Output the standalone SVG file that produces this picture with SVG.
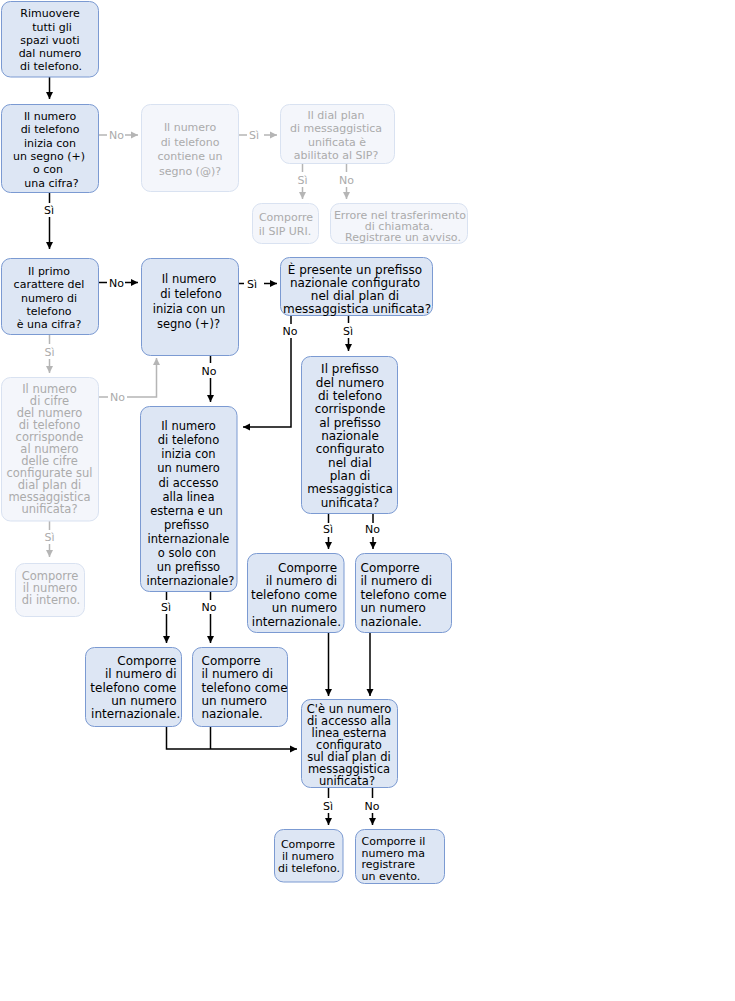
<svg xmlns="http://www.w3.org/2000/svg" width="735" height="1001" viewBox="0 0 735 1001">
<style>
text{font-family:"DejaVu Sans",Verdana,sans-serif;font-size:11px;text-anchor:middle}
.n rect{fill:#dde6f4;stroke:#7b9ad2;stroke-width:1}
.n text{fill:#000}
.f rect{fill:#f4f6fb;stroke:#d9e2f1;stroke-width:1}
.f text{fill:#ababab}
.s12 text{font-size:12px}
.s115 text{font-size:11.5px}
.r text{text-anchor:end}
.l text{text-anchor:start}
#conn path{fill:none;stroke:#000;stroke-width:1.5}
#conn .g path{stroke:#b5b5b5}
#conn text{fill:#000}
#conn .g text{fill:#ababab}
</style>
<defs>
<marker id="a" markerUnits="userSpaceOnUse" markerWidth="8" markerHeight="8" refX="7" refY="4" orient="auto"><path d="M0,0.5L7,4L0,7.5z" fill="#000"/></marker>
<marker id="ag" markerUnits="userSpaceOnUse" markerWidth="8" markerHeight="8" refX="7" refY="4" orient="auto"><path d="M0,0.5L7,4L0,7.5z" fill="#b5b5b5"/></marker>
</defs>
<rect width="735" height="1001" fill="#fff"/>
<g id="conn">
<g class="g">
<path d="M98,135H107" /><text x="116.5" y="139">No</text><path d="M125,135H138" marker-end="url(#ag)"/>
<path d="M238,135H247" /><text x="254" y="139">Sì</text><path d="M264,135H277" marker-end="url(#ag)"/>
<path d="M302.5,163V172" /><text x="302.5" y="184">Sì</text><path d="M302.5,187V199" marker-end="url(#ag)"/>
<path d="M346.5,163V172" /><text x="346.5" y="184">No</text><path d="M346.5,187V199" marker-end="url(#ag)"/>
<path d="M49.5,335V344" /><text x="49.5" y="356">Sì</text><path d="M49.5,359V373" marker-end="url(#ag)"/>
<path d="M98,397H108" /><text x="117.5" y="401">No</text><path d="M127,397H156.5V358" marker-end="url(#ag)"/>
<path d="M49.5,521V530" /><text x="49.5" y="541">Sì</text><path d="M49.5,544V557" marker-end="url(#ag)"/>
</g>
<path d="M49.5,77V99" marker-end="url(#a)"/>
<path d="M49.5,192V203" /><text x="49" y="213.5">Sì</text><path d="M49.5,217V249" marker-end="url(#a)"/>
<path d="M98,282.5H107" /><text x="116.5" y="286.5">No</text><path d="M125,282.5H138" marker-end="url(#a)"/>
<path d="M238,283.5H244" /><text x="252" y="287.5">Sì</text><path d="M264,283.5H277" marker-end="url(#a)"/>
<path d="M210.5,355V363" /><text x="209" y="375">No</text><path d="M210.5,378V402" marker-end="url(#a)"/>
<path d="M291,315V324" /><text x="290" y="335">No</text><path d="M291,338V427H243" marker-end="url(#a)"/>
<path d="M348.5,315V323" /><text x="348" y="335">Sì</text><path d="M348.5,338V351" marker-end="url(#a)"/>
<path d="M328.5,514V523" /><text x="328" y="533">Sì</text><path d="M328.5,537V549" marker-end="url(#a)"/>
<path d="M373,514V523" /><text x="372.5" y="533">No</text><path d="M373,537V549" marker-end="url(#a)"/>
<path d="M166.5,591V600" /><text x="166" y="611">Sì</text><path d="M166.5,614V643" marker-end="url(#a)"/>
<path d="M210.5,591V600" /><text x="209" y="611">No</text><path d="M210.5,614V643" marker-end="url(#a)"/>
<path d="M328.5,632V696" marker-end="url(#a)"/>
<path d="M370,632V696" marker-end="url(#a)"/>
<path d="M166.5,726V749H297" marker-end="url(#a)"/>
<path d="M210.5,726V749" />
<path d="M328.5,787V798" /><text x="328" y="810">Sì</text><path d="M328.5,813V825" marker-end="url(#a)"/>
<path d="M372.5,787V798" /><text x="372" y="810">No</text><path d="M372.5,813V825" marker-end="url(#a)"/>
</g>
<g id="n1" class="n"><rect x="1.5" y="1.5" width="97" height="75.5" rx="9"/>
<text x="50" y="17.3">Rimuovere</text><text x="52" y="30.5">tutti gli</text><text x="50" y="43.7">spazi vuoti</text><text x="50" y="56.9">dal numero</text><text x="51" y="70.1">di telefono.</text></g>
<g id="n2" class="n"><rect x="1.5" y="104.5" width="97" height="88" rx="9"/>
<text x="50" y="120">Il numero</text><text x="50" y="133.3">di telefono</text><text x="50" y="146.7">inizia con</text><text x="49" y="160">un segno (+)</text><text x="48" y="173.3">o con</text><text x="51.5" y="186.7">una cifra?</text></g>
<g id="n3" class="f"><rect x="141.5" y="104.5" width="97" height="87" rx="9"/>
<text x="190" y="131">Il numero</text><text x="190" y="145.5">di telefono</text><text x="190" y="160">contiene un</text><text x="190" y="175">segno (@)?</text></g>
<g id="n4" class="f"><rect x="280.5" y="104.5" width="114" height="59" rx="9"/>
<text x="336" y="119">Il dial plan</text><text x="336" y="132.3">di messaggistica</text><text x="337" y="145.7">unificata è</text><text x="336" y="159">abilitato al SIP?</text></g>
<g id="n5" class="f"><rect x="252.5" y="203.5" width="66" height="40" rx="9"/>
<text x="286" y="221">Comporre</text><text x="285" y="235">il SIP URI.</text></g>
<g id="n6" class="f"><rect x="330.5" y="203.5" width="137" height="40" rx="9"/>
<text x="400" y="218.5">Errore nel trasferimento</text><text x="399" y="229.5">di chiamata.</text><text x="403" y="240.5">Registrare un avviso.</text></g>
<g id="n7" class="n"><rect x="1.5" y="258.5" width="97" height="76" rx="9"/>
<text x="49" y="275">Il primo</text><text x="49" y="288.3">carattere del</text><text x="49" y="301.7">numero di</text><text x="49" y="315">telefono</text><text x="49" y="328.3">è una cifra?</text></g>
<g id="n8" class="n s115"><rect x="141.5" y="258.5" width="97" height="97" rx="9"/>
<text x="189" y="283">Il numero</text><text x="191" y="298">di telefono</text><text x="189" y="313">inizia con un</text><text x="188.5" y="328">segno (+)?</text></g>
<g id="n9" class="n s12"><rect x="280.5" y="257.5" width="152" height="58" rx="9"/>
<text x="355" y="274">È presente un prefisso</text><text x="355" y="287.3">nazionale configurato</text><text x="355" y="300.3">nel dial plan di</text><text x="357" y="312.7">messaggistica unificata?</text></g>
<g id="n10" class="f s115"><rect x="1.5" y="377.5" width="97" height="143.5" rx="9"/>
<text x="49.5" y="393.3">Il numero</text><text x="49.5" y="405.3">di cifre</text><text x="49.5" y="417.3">del numero</text><text x="49.5" y="429.3">di telefono</text><text x="49.5" y="441.3">corrisponde</text><text x="49.5" y="453.3">al numero</text><text x="49.5" y="465.3">delle cifre</text><text x="49.5" y="477.3">configurate sul</text><text x="49.5" y="489.3">dial plan di</text><text x="49.5" y="501.3">messaggistica</text><text x="49.5" y="513.3">unificata?</text></g>
<g id="n11" class="f s115"><rect x="15.5" y="563.5" width="69" height="53" rx="9"/>
<text x="50" y="580">Comporre</text><text x="50" y="592">il numero</text><text x="51" y="604">di interno.</text></g>
<g id="n12" class="n s115"><rect x="140.5" y="406.5" width="96.5" height="185" rx="9"/>
<text x="188.5" y="430.2">Il numero</text><text x="188.5" y="444.3">di telefono</text><text x="188.5" y="458.3">inizia con</text><text x="188.5" y="472.4">un numero</text><text x="188.5" y="486.5">di accesso</text><text x="188.5" y="500.6">alla linea</text><text x="186.5" y="514.6">esterna e un</text><text x="186.5" y="528.7">prefisso</text><text x="188.5" y="542.8">internazionale</text><text x="187" y="556.8">o solo con</text><text x="188.5" y="570.9">un prefisso</text><text x="190.5" y="585">internazionale?</text></g>
<g id="n13" class="n s12"><rect x="301.5" y="356.5" width="96" height="157" rx="9"/>
<text x="350" y="373.3">Il prefisso</text><text x="350" y="386.6">del numero</text><text x="350" y="400">di telefono</text><text x="350" y="413.3">corrisponde</text><text x="350" y="426.6">al prefisso</text><text x="350" y="440">nazionale</text><text x="350" y="453.3">configurato</text><text x="350" y="466.6">nel dial</text><text x="350" y="480">plan di</text><text x="350" y="493.3">messaggistica</text><text x="350" y="506.6">unificata?</text></g>
<g id="n14" class="n s12 r"><rect x="247.5" y="553.5" width="96.5" height="79" rx="9"/>
<text x="337.2" y="571.5">Comporre</text><text x="337.2" y="585.1">il numero di</text><text x="337.2" y="598.7">telefono come</text><text x="337.2" y="612.3">un numero</text><text x="341" y="625.9">internazionale.</text></g>
<g id="n15" class="n s12 l"><rect x="355.5" y="553.5" width="96" height="79" rx="9"/>
<text x="360.5" y="571.5">Comporre</text><text x="360.5" y="585.1">il numero di</text><text x="360.5" y="598.7">telefono come</text><text x="360.5" y="612.3">un numero</text><text x="360.5" y="625.9">nazionale.</text></g>
<g id="n16" class="n s12 r"><rect x="85.5" y="647.5" width="96" height="79" rx="9"/>
<text x="176.5" y="665">Comporre</text><text x="176.5" y="678.3">il numero di</text><text x="176.5" y="691.7">telefono come</text><text x="176.5" y="705">un numero</text><text x="180.3" y="718.3">internazionale.</text></g>
<g id="n17" class="n s12 l"><rect x="192.5" y="647.5" width="95" height="79" rx="9"/>
<text x="201.5" y="665">Comporre</text><text x="201.5" y="678.3">il numero di</text><text x="201.5" y="691.7">telefono come</text><text x="201.5" y="705">un numero</text><text x="201.5" y="718.3">nazionale.</text></g>
<g id="n18" class="n s115"><rect x="301.5" y="699.5" width="96" height="88" rx="9"/>
<text x="349" y="713.3">C'è un numero</text><text x="349" y="725.3">di accesso alla</text><text x="349" y="737.3">linea esterna</text><text x="349" y="749.3">configurato</text><text x="349" y="761.3">sul dial plan di</text><text x="349" y="773.3">messaggistica</text><text x="347" y="785.3">unificata?</text></g>
<g id="n19" class="n"><rect x="274.5" y="829.5" width="68.5" height="52.5" rx="9"/>
<text x="308" y="848.3">Comporre</text><text x="308" y="860.3">il numero</text><text x="309" y="872.3">di telefono.</text></g>
<g id="n20" class="n l"><rect x="355.5" y="829.5" width="89" height="54" rx="9"/>
<text x="361.5" y="845">Comporre il</text><text x="361.5" y="856.5">numero ma</text><text x="361.5" y="868">registrare</text><text x="361.5" y="879.5">un evento.</text></g>
</svg>
